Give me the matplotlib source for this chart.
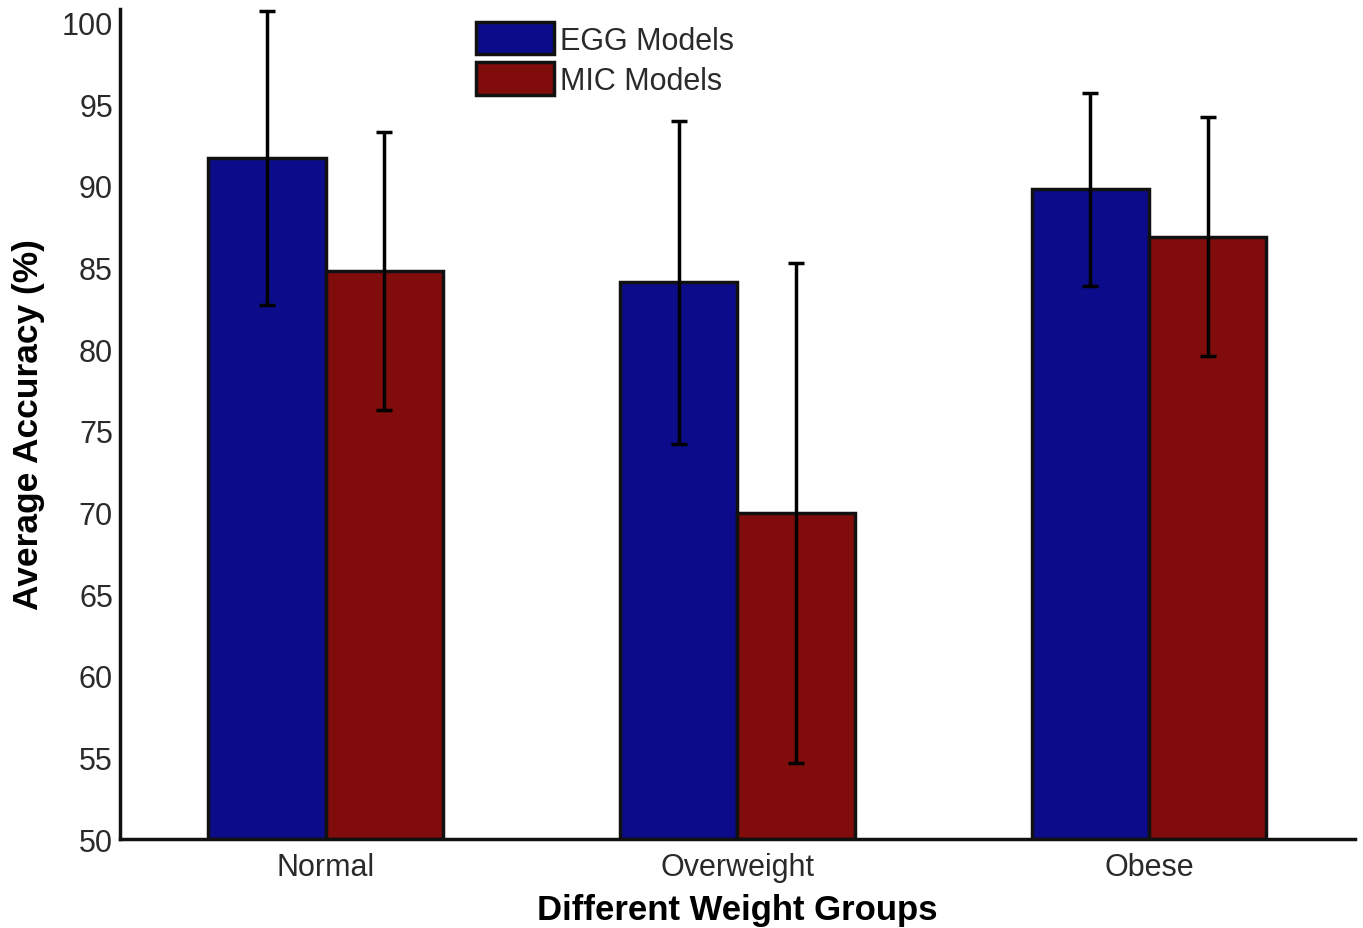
import numpy as np
import matplotlib.pyplot as plt

plt.rcParams['font.family'] = ['Liberation Sans', 'DejaVu Sans']

groups = ['Normal', 'Overweight', 'Obese']
egg_mean = [91.7, 84.1, 89.8]
egg_err = [9.0, 9.9, 5.9]
mic_mean = [84.8, 70.0, 86.9]
mic_err = [8.5, 15.3, 7.3]

x = np.arange(1, len(groups) + 1)
w = 0.285

fig = plt.figure(figsize=(13.63, 9.29), dpi=100)
ax = fig.add_axes([0.088, 0.0955, 0.906, 0.894])

err_kw = dict(ecolor='black', elinewidth=2.5, capsize=6, capthick=2.5)
ax.bar(x - w / 2, np.array(egg_mean) - 50, w, bottom=50, color='#0c0c8a',
       edgecolor='#111111', linewidth=2.5, yerr=egg_err, error_kw=err_kw,
       label='EGG Models')
ax.bar(x + w / 2, np.array(mic_mean) - 50, w, bottom=50, color='#800c0c',
       edgecolor='#111111', linewidth=2.5, yerr=mic_err, error_kw=err_kw,
       label='MIC Models')

ax.set_xlim(0.5, 3.5)
ax.set_ylim(50, 100.85)
ax.set_yticks(np.arange(50, 101, 5))
ax.set_xticks(x)
ax.set_xticklabels(groups)
ax.tick_params(length=0, labelsize=22, colors='#2a2a2a', pad=5)
ax.tick_params(axis='x', pad=9)

for s in ['top', 'right']:
    ax.spines[s].set_visible(False)
for s in ['left', 'bottom']:
    ax.spines[s].set_linewidth(2.5)
    ax.spines[s].set_color('#111111')

ax.set_xlabel('Different Weight Groups', fontsize=25, fontweight='bold', labelpad=8)
ax.set_ylabel('Average Accuracy (%)', fontsize=25.5, fontweight='bold', labelpad=12)

leg = ax.legend(loc='upper left', bbox_to_anchor=(0.266, 1.017), frameon=False,
                fontsize=22, handlelength=2.55, handleheight=1.25,
                handletextpad=0.2, labelspacing=0.22)
for t in leg.get_texts():
    t.set_color('#2a2a2a')

fig.savefig('out.png', dpi=100)
